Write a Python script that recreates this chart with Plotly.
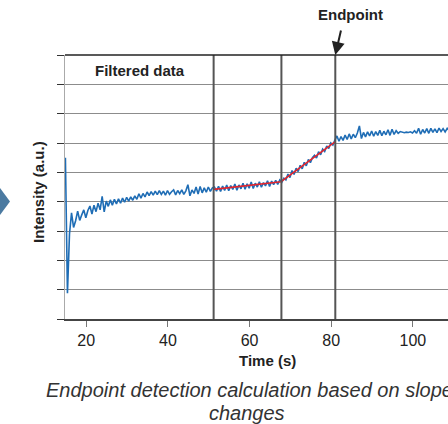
import plotly.graph_objects as go

# ---- data ----
# noisy filtered signal, sampled every 0.5 s, in four segments
seg_early_start = 14.9
seg_early = [5.5, 0.88, 2.9, 3.62, 3.12, 3.35, 3.68, 3.36, 3.55, 3.72,
             3.45, 3.70, 3.85, 3.58, 3.88, 3.66, 3.95, 3.72, 4.18, 3.65,
             4.02, 3.84, 4.06, 3.88, 4.08, 3.92, 4.10, 3.95, 4.12, 3.98,
             4.15, 4.02, 4.16, 4.05, 4.20, 4.08, 4.27, 4.12, 4.28, 4.16,
             4.33, 4.21, 4.34, 4.22, 4.36, 4.24, 4.38, 4.25, 4.36, 4.22,
             4.38, 4.25, 4.34, 4.40, 4.23, 4.38, 4.27, 4.40, 4.25, 4.37,
             4.58, 4.20, 4.40, 4.28, 4.50, 4.26, 4.52, 4.30, 4.47, 4.32,
             4.50, 4.35, 4.47]
seg_flat_start = 51.4
seg_flat = [4.50, 4.36, 4.52, 4.35, 4.53, 4.38, 4.57, 4.37, 4.55, 4.42,
            4.60, 4.39, 4.57, 4.44, 4.63, 4.42, 4.61, 4.46, 4.67, 4.45,
            4.63, 4.50, 4.68, 4.49, 4.65, 4.54, 4.71, 4.52, 4.70, 4.58,
            4.73, 4.59, 4.74, 4.66]
seg_rise_start = 68.4
seg_rise = [4.80, 4.74, 4.94, 4.82, 5.06, 4.93, 5.14, 5.03, 5.24, 5.12,
            5.34, 5.22, 5.44, 5.33, 5.50, 5.58, 5.49, 5.70, 5.60, 5.79,
            5.71, 5.90, 5.81, 6.00, 5.93, 6.10]
seg_plateau_start = 81.4
seg_plateau = [6.24, 6.06, 6.22, 6.09, 6.27, 6.12, 6.31, 6.14, 6.30, 6.18,
               6.34, 6.58, 6.15, 6.36, 6.21, 6.38, 6.24, 6.41, 6.23, 6.39,
               6.26, 6.43, 6.25, 6.40, 6.28, 6.45, 6.26, 6.47, 6.29, 6.42,
               6.33, 6.39, 6.36, 6.35, 6.37, 6.36, 6.38, 6.34, 6.42, 6.33,
               6.50, 6.30, 6.46, 6.34, 6.49, 6.33, 6.50, 6.36, 6.48, 6.35,
               6.51, 6.39, 6.49, 6.38, 6.50, 6.42]
sample_step = 0.5

# fitted slope segments (red)
fit_time = [51.2, 67.7, 81.0]
fit_value = [4.42, 4.68, 6.05]

# detected slope-change markers (vertical lines)
marker_time = [51.2, 67.8, 81.0]
endpoint_time = 81.0

x_ticks = [20, 40, 60, 80, 100]

# ---- build series ----
time, intensity = [], []
for start, seg in [(seg_early_start, seg_early), (seg_flat_start, seg_flat),
                   (seg_rise_start, seg_rise), (seg_plateau_start, seg_plateau)]:
    for i, v in enumerate(seg):
        time.append(round(start + sample_step * i, 3))
        intensity.append(v)

FONT = "Liberation Sans, Arial, Helvetica, sans-serif"
LABEL = dict(family=FONT, size=15, color="#222222")

fig = go.Figure()
fig.add_trace(go.Scatter(x=time, y=intensity, mode="lines",
                         line=dict(color="#1f6db5", width=1.6),
                         showlegend=False, hoverinfo="skip"))
fig.add_trace(go.Scatter(x=fit_time, y=fit_value, mode="lines",
                         line=dict(color="#e3262e", width=1.6),
                         showlegend=False, hoverinfo="skip"))

shapes = []
for t in marker_time:
    shapes.append(dict(type="line", xref="x", yref="paper", x0=t, x1=t, y0=0, y1=1,
                       line=dict(color="#555555", width=2), layer="above"))
# top border
shapes.append(dict(type="line", xref="paper", yref="paper", x0=0, x1=1, y0=1, y1=1,
                   line=dict(color="#222222", width=1.5)))
# left decorative arrow
shapes.append(dict(type="path", xref="paper", yref="paper",
                   path="M -0.1697,0.496 L -0.1436,0.445 L -0.1697,0.394 Z",
                   fillcolor="#4b7aa1", line=dict(width=0)))

annotations = [
    dict(text="<b>Filtered data</b>", x=33.2, y=8.46, xref="x", yref="y", showarrow=False,
         font=LABEL, xanchor="center", yanchor="middle"),
    dict(text="<b>Endpoint</b>", x=endpoint_time + 3.7, y=1.152, xref="x", yref="paper",
         showarrow=False, font=LABEL, xanchor="center", yanchor="middle"),
    dict(text="", x=endpoint_time, y=1, xref="x", yref="paper", showarrow=True,
         ax=6, ay=-26, arrowhead=2, arrowsize=1.3, arrowwidth=2, arrowcolor="#222222",
         standoff=0),
    dict(text="<b>Intensity (a.u.)</b>", x=-0.0705, y=0.481, xref="paper", yref="paper",
         textangle=-90, showarrow=False, font=LABEL, xanchor="center", yanchor="middle"),
    dict(text="<b>Time (s)</b>", x=64.3, y=-0.158, xref="x", yref="paper", showarrow=False,
         font=LABEL, xanchor="center", yanchor="middle"),
    dict(text="<i>Endpoint detection calculation based on slope</i>",
         x=0.483, y=-0.268, xref="paper", yref="paper", showarrow=False,
         font=dict(family=FONT, size=20, color="#333333"), xanchor="center", yanchor="middle"),
    dict(text="<i>changes</i>", x=0.474, y=-0.355, xref="paper", yref="paper", showarrow=False,
         font=dict(family=FONT, size=20, color="#333333"), xanchor="center", yanchor="middle"),
]

fig.update_layout(
    width=448, height=424,
    margin=dict(l=65, r=0, t=55, b=105),
    paper_bgcolor="white", plot_bgcolor="white",
    shapes=shapes, annotations=annotations,
    font=dict(family=FONT),
    xaxis=dict(range=[14.8, 108.6], tickvals=x_ticks, ticks="outside", ticklen=6,
               tickcolor="#777777", showline=True, linecolor="#444444", linewidth=1.5,
               showgrid=False, zeroline=False, tickfont=dict(size=16, color="#222222")),
    yaxis=dict(range=[0, 9], dtick=1, showgrid=True, gridcolor="#8c8c8c", gridwidth=1,
               showticklabels=False, ticks="outside", ticklen=7, tickcolor="#333333",
               showline=True, linecolor="#aaaaaa", zeroline=False),
)

fig.write_html("out.html")
